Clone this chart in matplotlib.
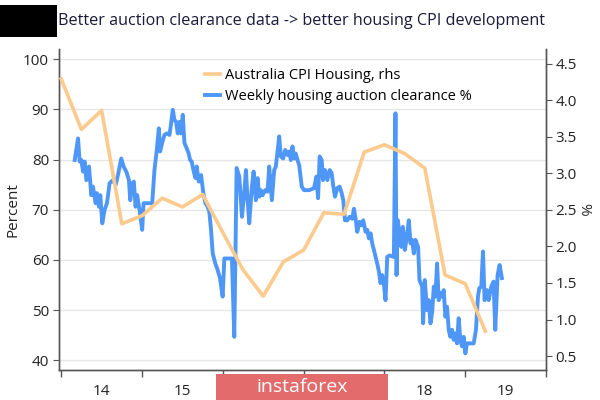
import matplotlib
matplotlib.use("Agg")
import matplotlib.pyplot as plt
from matplotlib.patches import Rectangle
import numpy as np

# Quarterly Australia CPI housing (rhs), fractional year
cpi_dates = [2014.0 + 0.25 * i for i in range(22)]
cpi_values = [4.29, 3.60, 3.86, 2.31, 2.42, 2.66, 2.54, 2.71, 2.19, 1.68, 1.32,
              1.79, 1.95, 2.46, 2.44, 3.29, 3.39, 3.27, 3.07, 1.61, 1.49, 0.84]

# Weekly housing auction clearance % (lhs)
auc_dates = [
    2014.167, 2014.208, 2014.228, 2014.249, 2014.270, 2014.290, 2014.311, 2014.344, 2014.372, 2014.393,
    2014.426, 2014.442, 2014.467, 2014.484, 2014.508, 2014.537, 2014.566, 2014.599, 2014.640, 2014.673,
    2014.702, 2014.743, 2014.772, 2014.805, 2014.838, 2014.854, 2014.879, 2014.899, 2014.920, 2014.940,
    2014.969, 2015.002, 2015.019, 2015.072, 2015.126, 2015.154, 2015.183, 2015.208, 2015.224, 2015.249,
    2015.278, 2015.307, 2015.340, 2015.360, 2015.381, 2015.401, 2015.422, 2015.442, 2015.463, 2015.484,
    2015.504, 2015.525, 2015.554, 2015.578, 2015.595, 2015.615, 2015.636, 2015.661, 2015.677, 2015.702,
    2015.731, 2015.759, 2015.784, 2015.813, 2015.833, 2015.854, 2015.875, 2015.907, 2015.936, 2015.965,
    2015.998, 2016.019, 2016.113, 2016.142, 2016.171, 2016.204, 2016.237, 2016.265, 2016.286, 2016.307,
    2016.327, 2016.360, 2016.381, 2016.409, 2016.430, 2016.451, 2016.471, 2016.492, 2016.525, 2016.554,
    2016.574, 2016.607, 2016.636, 2016.656, 2016.698, 2016.718, 2016.747, 2016.772, 2016.800, 2016.821,
    2016.842, 2016.862, 2016.883, 2016.903, 2016.924, 2016.945, 2016.977, 2017.006, 2017.068, 2017.129,
    2017.158, 2017.179, 2017.199, 2017.224, 2017.240, 2017.265, 2017.294, 2017.323, 2017.347, 2017.368,
    2017.388, 2017.417, 2017.446, 2017.471, 2017.491, 2017.512, 2017.541, 2017.569, 2017.602, 2017.623,
    2017.644, 2017.664, 2017.693, 2017.718, 2017.738, 2017.767, 2017.788, 2017.808, 2017.829, 2017.849,
    2017.870, 2017.891, 2017.911, 2017.932, 2017.952, 2017.973, 2017.997, 2018.014, 2018.035, 2018.063,
    2018.117, 2018.137, 2018.150, 2018.166, 2018.187, 2018.211, 2018.228, 2018.253, 2018.273, 2018.302,
    2018.323, 2018.343, 2018.364, 2018.384, 2018.417, 2018.434, 2018.467, 2018.479, 2018.500, 2018.528,
    2018.549, 2018.570, 2018.590, 2018.611, 2018.631, 2018.652, 2018.672, 2018.693, 2018.714, 2018.734,
    2018.755, 2018.775, 2018.796, 2018.816, 2018.837, 2018.858, 2018.878, 2018.899, 2018.919, 2018.940,
    2018.960, 2018.981, 2019.002, 2019.022, 2019.105, 2019.133, 2019.158, 2019.174, 2019.199, 2019.220,
    2019.240, 2019.269, 2019.290, 2019.323, 2019.351, 2019.372, 2019.401, 2019.426, 2019.454]
auc_values = [
    79.9, 84.2, 79.6, 79.9, 77.6, 79.6, 75.9, 78.6, 72.9, 74.6,
    71.3, 73.3, 70.6, 72.9, 67.3, 70.0, 71.3, 75.3, 75.9, 74.9,
    76.9, 80.2, 78.6, 77.6, 75.9, 71.9, 75.3, 75.6, 70.6, 72.9,
    70.0, 66.0, 71.3, 71.3, 71.3, 77.9, 81.9, 86.2, 81.6, 83.3,
    84.9, 85.2, 84.9, 87.2, 89.9, 87.9, 87.5, 85.2, 87.5, 85.2,
    88.9, 83.3, 82.2, 81.2, 79.9, 79.6, 77.9, 76.3, 78.6, 75.6,
    76.9, 73.3, 71.3, 70.6, 69.6, 66.0, 61.3, 59.3, 58.0, 56.4,
    52.7, 60.3, 60.3, 44.7, 78.3, 76.6, 68.6, 73.3, 77.9, 71.9,
    67.3, 74.6, 77.6, 71.9, 76.3, 72.6, 73.9, 72.9, 73.9, 73.6,
    78.6, 71.9, 77.9, 78.6, 84.6, 80.6, 80.2, 81.9, 80.9, 81.6,
    79.9, 82.6, 80.2, 81.2, 79.9, 78.9, 74.6, 73.9, 73.9, 74.3,
    76.6, 72.3, 80.6, 79.9, 75.9, 77.9, 75.9, 77.9, 77.3, 74.6,
    72.6, 74.3, 74.6, 73.3, 71.9, 67.9, 67.9, 68.6, 68.2, 70.2,
    68.2, 65.6, 67.6, 66.9, 67.9, 65.6, 66.0, 64.3, 65.3, 63.3,
    62.0, 60.6, 59.3, 57.7, 55.4, 57.0, 54.7, 52.0, 60.6, 60.9,
    60.6, 89.2, 57.0, 67.9, 65.3, 62.6, 66.6, 62.0, 64.0, 67.9,
    63.3, 64.0, 61.3, 64.0, 62.6, 56.0, 54.7, 47.4, 56.0, 50.0,
    52.0, 47.4, 49.4, 54.7, 52.7, 59.3, 52.0, 53.4, 52.7, 54.0,
    48.7, 50.7, 46.1, 44.7, 46.1, 44.1, 45.4, 43.4, 48.4, 44.1,
    42.8, 44.7, 41.4, 43.4, 43.4, 46.1, 52.7, 54.4, 54.7, 61.7,
    52.0, 54.0, 52.0, 54.7, 55.7, 46.1, 57.0, 59.0, 56.4]

year_bounds = [2014, 2015, 2016, 2017, 2018, 2019, 2020]
year_labels = ["14", "15", "16", "17", "18", "19"]
hidden_labels = ["16", "17"]  # covered by the watermark in the reference
left_ticks = [40, 50, 60, 70, 80, 90, 100]
right_ticks = [0.5, 1.0, 1.5, 2.0, 2.5, 3.0, 3.5, 4.0, 4.5]

plt.rcParams['font.family'] = ['Open Sans', 'DejaVu Sans']
text_col = '#222222'
spine_col = '#555555'
blue = '#4f97f7'
orange = '#fdca8e'

fig = plt.figure(figsize=(6, 4), dpi=100)
fig.patch.set_facecolor('white')
ax = fig.add_axes([0.098, 0.075, 0.812, 0.8025])
ax2 = ax.twinx()

l1, = ax.plot(auc_dates, auc_values, color=blue, lw=2.8, solid_joinstyle='round',
              label='Weekly housing auction clearance %', zorder=3)
l2, = ax2.plot(cpi_dates, cpi_values, color=orange, lw=2.6, solid_joinstyle='round',
               label='Australia CPI Housing, rhs', zorder=3)

ax.set_xlim(2013.97, 2020.0)
ax.set_ylim(38.1, 102)
ax2.set_ylim(0.31, 4.7)

ax.set_yticks(left_ticks)
ax2.set_yticks(right_ticks)
ax2.set_yticklabels([f"{t:.1f}" for t in right_ticks])
ax.set_xticks(year_bounds)
ax.set_xticklabels([])
ax.set_xticks([y + 0.5 for y in year_bounds[:-1]], minor=True)
ax.set_xticklabels(year_labels, minor=True)
for lab in ax.get_xticklabels(minor=True):
    if lab.get_text() in hidden_labels:
        lab.set_visible(False)
ax.tick_params(axis='x', which='minor', length=0, pad=10, labelsize=11, labelcolor=text_col)
ax.tick_params(axis='x', which='major', length=5, color=spine_col, width=1)
ax.tick_params(axis='y', length=4, color=spine_col, labelsize=11, labelcolor=text_col, pad=3)
ax2.tick_params(axis='y', length=4, color=spine_col, labelsize=11, labelcolor=text_col, pad=3)

ax.grid(axis='y', color='#e6e6e6', lw=1.0, zorder=0)
ax.set_axisbelow(True)
for a in (ax, ax2):
    a.spines['top'].set_visible(False)
    for s in ('left', 'right', 'bottom'):
        a.spines[s].set_color(spine_col)
        a.spines[s].set_linewidth(1.0)

ax.set_ylabel('Percent', fontsize=11, color=text_col, labelpad=2)
ax2.set_ylabel('%', fontsize=11, color=text_col, rotation=270, labelpad=10)

fig.legend(handles=[l2, l1], loc='upper left', bbox_to_anchor=(0.332, 0.845),
           frameon=False, fontsize=10.5, handlelength=1.05, handletextpad=0.35,
           labelspacing=0.45, borderaxespad=0)

# Title block
fig.patches.append(Rectangle((0, 1 - 37 / 400), 57 / 600, 32 / 400, transform=fig.transFigure,
                             facecolor='black', edgecolor='none'))
fig.text(58 / 600, 1 - 21 / 400, 'Better auction clearance data -> better housing CPI development',
         fontsize=11.6, color='#1a1a3a', va='center', ha='left')

# Watermark
fig.patches.append(Rectangle((216 / 600, 0), 172 / 600, 26 / 400, transform=fig.transFigure,
                             facecolor='#e36b6b', edgecolor='none', zorder=10))
fig.text(302 / 600, 13 / 400, 'instaforex', fontsize=14, color='white', ha='center',
         va='center', zorder=11)

fig.savefig('out.png', dpi=100)
